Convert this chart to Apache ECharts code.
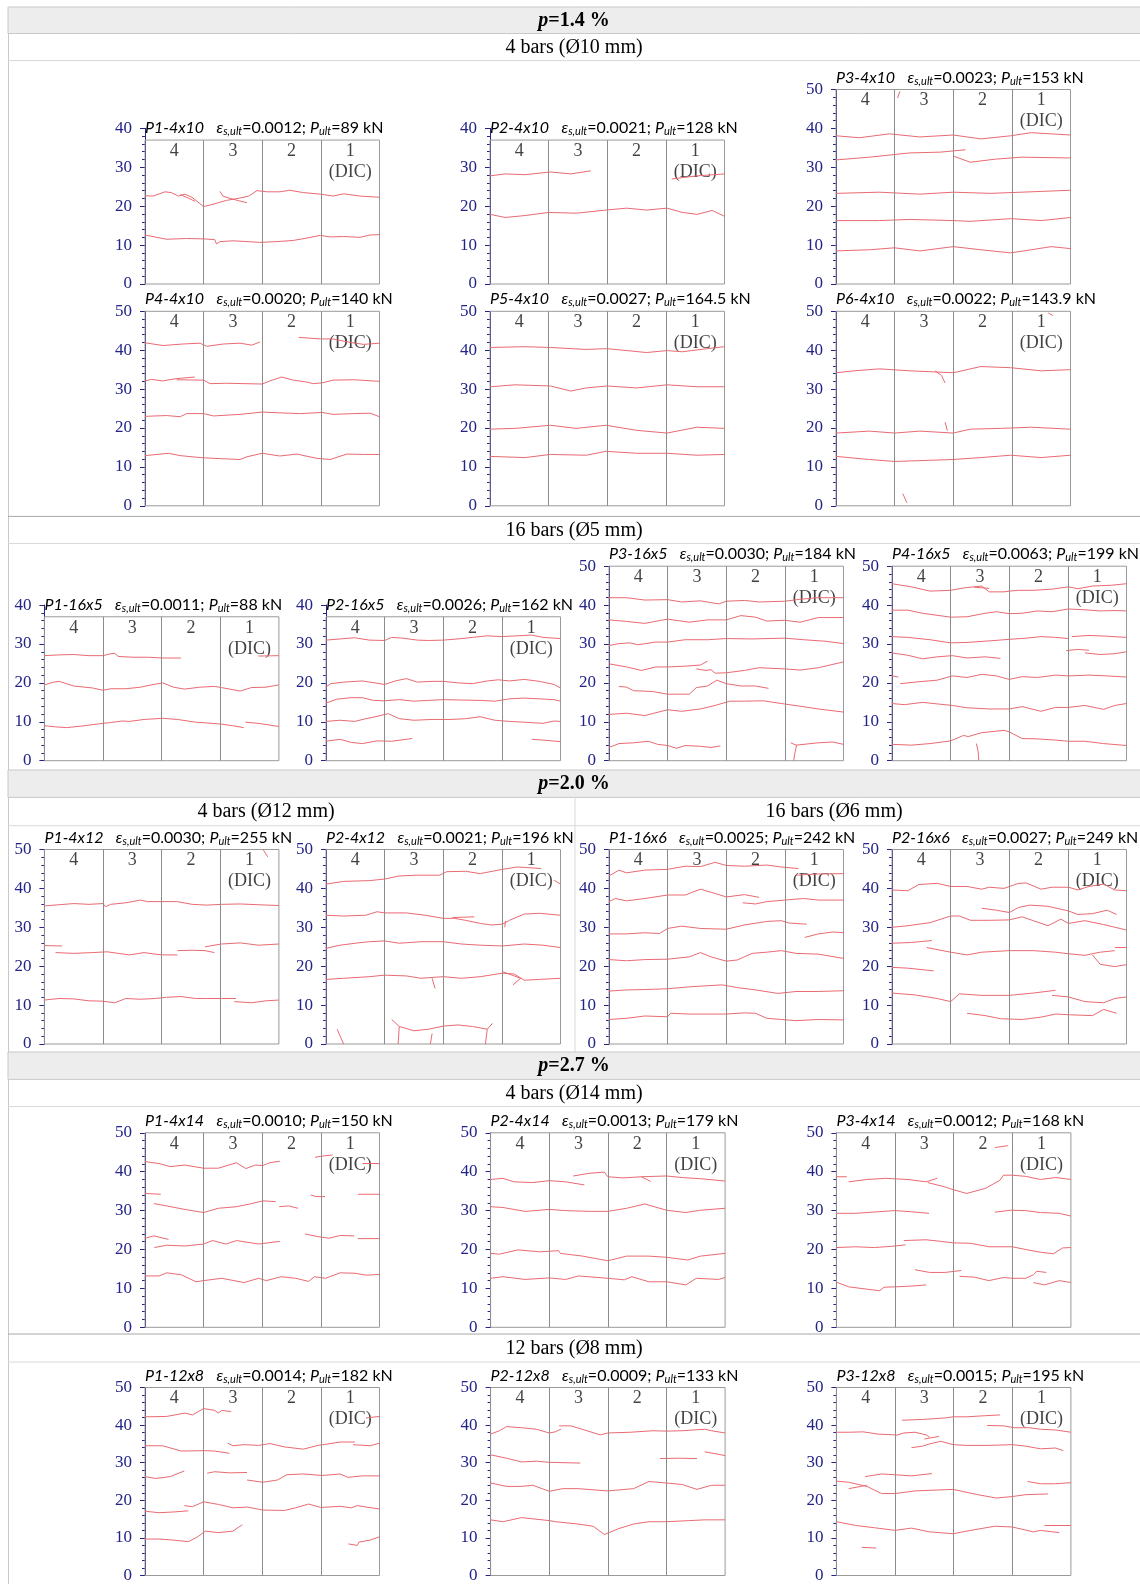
<!DOCTYPE html>
<html><head><meta charset="utf-8">
<script src="https://cdn.jsdelivr.net/npm/echarts@6/dist/echarts.min.js"></script>
<style>html,body{margin:0;padding:0;background:#fff}#c{width:1140px;height:1584px}</style>
</head><body><div id="c"></div><script>
// ---------------- DATA ----------------
const groupHeaders = ['1.4', '2.0', '2.7'];
const subHeaders = ['4 bars (Ø10 mm)', '16 bars (Ø5 mm)', '4 bars (Ø12 mm)', '16 bars (Ø6 mm)', '4 bars (Ø14 mm)', '12 bars (Ø8 mm)'];
const colLabels = ['4', '3', '2', '1\n(DIC)'];
const names = ['P1-4x10','P2-4x10','P3-4x10','P4-4x10','P5-4x10','P6-4x10',
  'P1-16x5','P2-16x5','P3-16x5','P4-16x5',
  'P1-4x12','P2-4x12','P1-16x6','P2-16x6',
  'P1-4x14','P2-4x14','P3-4x14',
  'P1-12x8','P2-12x8','P3-12x8'];
const epsUlt = ['0.0012','0.0021','0.0023','0.0020','0.0027','0.0022',
  '0.0011','0.0026','0.0030','0.0063',
  '0.0030','0.0021','0.0025','0.0027',
  '0.0010','0.0013','0.0012',
  '0.0014','0.0009','0.0015'];
const pUlt = ['89','128','153','140','164.5','143.9',
  '88','162','184','199',
  '255','196','242','249',
  '150','179','168',
  '182','133','195'];
const yMaxes = [40,40,50,50,50,50, 40,40,50,50, 50,50,50,50, 50,50,50, 50,50,50];
const boxHeights = [37,37,50,50,50,50, 37,37,50,50, 50,50,50,50, 50,50,50, 50,50,50];

// crack polylines: x in column widths (0..4), y in cm
const P1_4x10 = [
 [[0,22.7],[0.14,22.6],[0.34,23.7],[0.45,23.5],[0.57,22.6],[0.68,23.1],[0.8,22.3],[1.0,19.9],[1.16,20.5],[1.39,21.5],[1.62,22.1],[1.77,22.6],[1.91,24.0],[2.08,23.7],[2.3,23.7],[2.47,24.1],[2.7,23.5],[2.99,23.1],[3.21,22.6],[3.39,23.2],[3.67,22.6],[4,22.3]],
 [[1.28,23.8],[1.33,22.6],[1.45,22.0],[1.6,21.4],[1.74,20.9]],
 [[0.6,23.0],[0.72,22.2],[0.85,21.3]],
 [[0,12.6],[0.2,12.0],[0.37,11.5],[0.71,11.7],[1.0,11.6],[1.19,11.4],[1.22,10.3],[1.28,10.9],[1.51,11.1],[1.74,10.9],[1.96,10.7],[2.25,10.9],[2.53,11.2],[2.76,11.8],[2.99,12.5],[3.16,12.1],[3.39,12.2],[3.67,12.0],[3.84,12.6],[4,12.7]]
];
const P2_4x10 = [
 [[0,27.8],[0.26,28.3],[0.6,28.1],[1.03,28.8],[1.38,28.3],[1.72,29.1]],
 [[3.1,27.0],[3.53,27.8],[4,28.3]],
 [[0,17.9],[0.26,17.1],[0.6,17.6],[1.0,18.4],[1.47,18.2],[1.98,19.0],[2.33,19.5],[2.67,19.0],[3.02,19.5],[3.28,18.4],[3.53,17.9],[3.79,18.9],[4,17.4]]
];
const P3_4x10 = [
 [[1.09,49.5],[1.05,47.8]],
 [[0,38.1],[0.4,37.6],[0.91,38.6],[1.43,37.8],[2.0,38.3],[2.47,37.3],[2.98,38.1],[3.33,38.9],[4,38.3]],
 [[0,31.9],[0.57,32.6],[1.26,33.7],[1.78,33.9],[2.21,34.5]],
 [[2.0,32.9],[2.29,31.3],[2.72,32.1],[3.16,32.6],[4,32.4]],
 [[0,23.3],[0.74,23.6],[1.43,23.1],[2.0,23.6],[2.64,23.3],[3.5,23.8],[4,24.1]],
 [[0,16.3],[0.74,16.3],[1.26,16.6],[2.0,16.3],[2.29,16.1],[2.98,16.8],[3.5,16.3],[4,17.1]],
 [[0,8.5],[0.57,8.8],[1.0,9.3],[1.43,8.5],[2.0,9.6],[2.47,8.8],[2.98,8.0],[3.33,8.8],[3.67,9.6],[4,9.1]]
];
const P4_4x10 = [
 [[0,41.9],[0.31,41.2],[0.65,41.6],[0.94,41.8],[1.05,41.0],[1.34,41.6],[1.62,41.8],[1.82,41.3],[1.96,42.1]],
 [[2.62,43.3],[2.99,42.9],[3.2,42.9],[3.5,42.0],[3.73,41.5],[4,41.8]],
 [[0,32.1],[0.11,32.5],[0.3,32.1],[0.54,32.7],[0.85,33.1]],
 [[0.54,32.4],[1.0,32.3],[1.11,31.4],[1.39,31.5],[2.0,31.3],[2.13,32.1],[2.33,33.1],[2.53,32.3],[2.76,31.8],[2.87,31.4],[3.02,31.6],[3.21,32.3],[3.56,32.4],[4,32.0]],
 [[0,23.0],[0.37,23.2],[0.6,22.9],[0.71,23.7],[1.0,23.7],[1.17,23.1],[1.62,23.5],[2.0,24.1],[2.3,23.9],[2.65,23.7],[3.02,24.0],[3.21,23.5],[3.56,23.7],[3.84,23.8],[4,22.9]],
 [[0,12.9],[0.4,13.5],[0.6,12.9],[0.94,12.4],[1.17,12.2],[1.62,11.9],[1.74,12.6],[2.0,13.5],[2.3,12.8],[2.59,13.3],[2.93,12.2],[3.16,11.9],[3.44,13.3],[3.73,13.2],[4,13.2]]
];
const P5_4x10 = [
 [[0,40.7],[0.6,40.9],[1.03,40.7],[1.64,40.2],[2.0,40.4],[2.67,39.4],[3.02,39.9],[3.28,39.6],[3.71,40.4],[4,40.9]],
 [[0,30.6],[0.43,31.1],[1.03,30.8],[1.38,29.5],[1.64,30.3],[2.0,30.8],[2.5,30.3],[3.02,31.1],[3.53,30.6],[4,30.6]],
 [[0,19.7],[0.43,19.9],[1.03,20.7],[1.47,19.9],[1.98,20.7],[2.5,19.4],[3.02,18.7],[3.53,20.2],[4,19.9]],
 [[0,12.7],[0.6,12.4],[1.03,13.2],[1.64,13.0],[1.98,14.0],[2.5,13.5],[3.02,13.5],[3.53,13.0],[4,13.2]]
];
const P6_4x10 = [
 [[3.62,49.6],[3.7,48.9]],
 [[0,34.2],[0.31,34.7],[0.74,35.2],[1.26,34.7],[2.0,34.2],[2.47,35.8],[2.98,35.5],[3.5,34.7],[4,35.0]],
 [[1.69,34.7],[1.8,33.5],[1.86,31.6]],
 [[0,18.7],[0.57,19.2],[1.0,18.7],[1.43,19.2],[2.0,18.7],[2.29,19.7],[2.81,19.9],[3.33,20.2],[4,19.7]],
 [[1.86,21.5],[1.9,19.3]],
 [[0,12.7],[0.57,11.9],[1.0,11.4],[1.6,11.7],[2.0,11.9],[2.47,12.4],[2.98,13.0],[3.5,12.4],[4,13.0]],
 [[1.14,3.1],[1.21,0.8]]
];
const P1_16x5 = [
 [[0,27.0],[0.25,27.2],[0.5,27.3],[0.76,27.0],[1.0,27.0],[1.13,27.5],[1.2,27.6],[1.26,26.8],[1.51,26.6],[1.76,26.6],[2.02,26.4],[2.33,26.4]],
 [[3.65,26.9],[4,27.0]],
 [[0,19.5],[0.16,20.2],[0.25,20.4],[0.5,19.2],[0.82,18.7],[1.0,18.1],[1.13,18.5],[1.39,18.5],[1.64,18.9],[1.83,19.5],[2.02,20.0],[2.2,18.9],[2.39,18.4],[2.65,18.9],[2.9,19.1],[3.02,18.8],[3.34,17.9],[3.53,18.8],[3.78,18.9],[4,19.5]],
 [[0,9.0],[0.19,8.7],[0.38,8.5],[0.63,8.9],[1.0,9.6],[1.13,9.8],[1.32,10.2],[1.45,10.1],[1.7,10.6],[2.02,10.9],[2.27,10.6],[2.58,9.9],[2.77,9.7],[3.02,9.4],[3.21,9.0],[3.4,8.5]],
 [[3.43,9.9],[3.65,9.6],[4,8.8]]
];
const P2_16x5 = [
 [[0,31.0],[0.24,31.3],[0.49,31.6],[0.74,31.0],[1.0,30.9],[1.12,31.7],[1.31,31.5],[1.56,31.0],[1.75,30.9],[2.0,31.0],[2.25,31.3],[2.5,31.7],[2.75,32.1],[3.0,31.9],[3.26,32.1],[3.51,32.3],[3.7,31.7],[4,31.4]],
 [[0,18.9],[0.08,19.8],[0.3,20.2],[0.62,20.5],[1.0,19.6],[1.18,20.5],[1.37,21.1],[1.56,20.2],[1.81,20.4],[2.0,20.4],[2.25,20.0],[2.5,19.8],[2.75,20.5],[2.94,20.8],[3.13,20.5],[3.38,20.9],[3.64,20.4],[3.89,19.6],[4,18.7]],
 [[0,14.8],[0.18,15.8],[0.43,16.2],[0.62,16.2],[0.81,15.5],[1.0,15.4],[1.25,15.7],[1.5,15.3],[1.75,15.5],[2.0,15.7],[2.31,15.6],[2.63,15.5],[2.88,15.3],[3.13,15.9],[3.38,16.1],[3.64,15.9],[3.89,15.7],[4,15.3]],
 [[0,10.1],[0.24,10.4],[0.49,10.1],[0.68,10.8],[0.87,11.4],[1.06,12.1],[1.25,10.8],[1.5,10.4],[1.81,10.6],[2.13,10.6],[2.38,10.8],[2.63,11.3],[2.88,10.4],[3.13,10.1],[3.38,9.9],[3.7,9.6],[3.89,10.2],[4,10.1]],
 [[0,5.0],[0.24,5.5],[0.43,4.7],[0.62,4.4],[0.87,5.1],[1.12,5.0],[1.47,5.7]],
 [[3.51,5.5],[3.7,5.3],[4,4.9]]
];
const P3_16x5 = [
 [[0,41.9],[0.3,41.9],[0.61,41.3],[1.0,41.4],[1.24,40.8],[1.56,41.1],[1.87,40.3],[2.0,41.0],[2.31,41.2],[2.56,40.8],[3.0,41.0],[3.26,41.5],[3.57,41.9],[4,41.9]],
 [[0,36.2],[0.3,35.8],[0.61,35.3],[1.0,36.4],[1.37,35.6],[1.68,36.2],[2.0,36.2],[2.25,37.3],[2.5,36.9],[2.69,35.9],[3.0,36.1],[3.26,35.6],[3.57,36.8],[4,36.8]],
 [[0,29.6],[0.17,30.1],[0.36,30.3],[0.49,29.8],[0.8,30.5],[1.0,30.5],[1.3,31.1],[1.68,31.1],[2.0,31.4],[2.44,31.3],[3.0,31.5],[3.32,31.1],[3.7,30.7],[4,30.1]],
 [[0,24.9],[0.3,24.1],[0.55,23.2],[0.8,24.1],[1.0,24.1],[1.3,24.3],[1.56,24.6],[1.68,25.6]],
 [[1.49,23.6],[1.65,23.2],[1.74,23.4],[1.81,22.5],[2.0,22.6],[2.31,23.2],[2.56,23.9],[3.0,23.6],[3.26,23.3],[3.57,23.9],[4,25.4]],
 [[0.17,19.1],[0.3,18.9],[0.42,18.0],[0.74,17.8],[1.0,17.1],[1.37,17.1],[1.49,18.8],[1.68,19.2],[1.84,20.7],[2.0,19.8],[2.25,19.2],[2.5,19.2],[2.72,18.6]],
 [[0,11.9],[0.3,12.2],[0.61,11.6],[1.0,13.1],[1.24,12.7],[1.56,13.3],[1.81,14.2],[2.06,15.3],[2.31,15.3],[2.63,15.4],[2.94,14.7],[3.26,14.0],[3.57,13.3],[4,12.5]],
 [[0,3.4],[0.17,4.4],[0.42,4.6],[0.67,5.0],[0.83,4.2],[1.0,3.9],[1.15,3.2],[1.3,3.9],[1.56,3.7],[1.74,3.4],[1.9,3.8]],
 [[3.1,4.6],[3.19,4.0],[3.57,4.6],[3.82,4.8],[4,4.2]],
 [[3.2,4.0],[3.17,1.9],[3.15,0]]
];
const P4_16x5 = [
 [[0,45.5],[0.33,44.7],[0.65,43.6],[1.0,43.8],[1.22,44.4],[1.53,44.9],[1.66,43.4],[1.91,43.4],[2.0,43.6],[2.16,43.8],[2.41,43.8],[2.73,44.1],[3.01,44.7],[3.17,44.2],[3.42,44.9],[3.74,45.1],[4,45.5]],
 [[1.4,44.6],[1.66,44.3]],
 [[0,38.7],[0.27,38.7],[0.52,37.9],[1.0,36.9],[1.28,37.0],[1.59,37.9],[1.78,38.3],[2.0,37.8],[2.22,37.9],[2.48,38.5],[2.73,38.3],[3.01,39.0],[3.29,38.8],[3.55,38.5],[3.8,38.6],[4,38.5]],
 [[0,31.9],[0.27,31.7],[0.65,31.1],[1.0,30.3],[1.28,30.4],[1.66,30.8],[2.0,31.2],[2.29,31.5],[2.54,31.9],[2.79,31.7],[3.01,31.4]],
 [[3.07,31.9],[3.36,32.2],[3.67,32.0],[4,31.7]],
 [[0,27.7],[0.27,27.1],[0.52,26.2],[0.77,26.7],[1.03,27.0],[1.28,26.4],[1.59,26.7],[1.85,26.3]],
 [[2.97,28.3],[3.17,28.6],[3.36,28.4]],
 [[3.29,27.7],[3.55,27.3],[3.8,27.5],[4,28.0]],
 [[0,21.8],[0.11,21.5]],
 [[0.14,19.8],[0.46,20.3],[0.77,20.7],[1.03,21.8],[1.28,21.4],[1.53,22.2],[1.78,21.8],[2.0,20.9],[2.22,21.6],[2.48,21.4],[2.79,22.0],[3.01,21.8],[3.36,22.0],[3.67,21.8],[4,21.5]],
 [[0,14.7],[0.21,14.4],[0.52,15.0],[0.77,14.6],[1.03,14.2],[1.28,13.6],[1.66,13.3],[2.0,13.3],[2.22,13.9],[2.54,12.7],[2.79,13.7],[3.01,13.7],[3.29,14.2],[3.61,13.2],[3.8,14.2],[4,14.7]],
 [[0,4.2],[0.33,4.0],[0.65,4.4],[1.0,5.1],[1.22,6.5],[1.3,6.2],[1.53,7.2],[1.91,7.8],[2.0,7.4],[2.22,5.7],[2.48,5.6],[2.79,5.3],[3.01,5.0],[3.29,5.0],[3.61,4.4],[4,3.9]],
 [[1.44,4.4],[1.47,2.3],[1.48,0]]
];
const P1_4x12 = [
 [[3.73,50],[3.81,48.1]],
 [[0,35.5],[0.25,35.8],[0.5,36.1],[0.76,35.9],[1.0,36.1],[1.04,35.3],[1.13,35.9],[1.39,36.3],[1.64,37.0],[1.76,36.6],[1.99,36.6],[2.27,36.6],[2.52,35.9],[2.77,35.7],[3.02,35.9],[3.34,36.0],[3.65,35.8],[4,35.6]],
 [[0,25.3],[0.3,25.2]],
 [[0.19,23.5],[0.5,23.3],[0.82,23.5],[1.07,23.7],[1.26,23.3],[1.45,22.9],[1.7,23.5],[1.89,23.1],[2.02,22.9],[2.27,22.9]],
 [[2.27,24.0],[2.52,24.1],[2.74,24.0],[2.9,23.5]],
 [[2.74,25.0],[3.02,25.7],[3.34,26.0],[3.65,25.4],[4,25.7]],
 [[0,11.3],[0.25,11.7],[0.5,11.6],[0.76,11.1],[1.0,11.0],[1.2,10.6],[1.39,11.7],[1.64,11.5],[1.89,11.7],[2.08,12.0],[2.33,12.2],[2.58,11.7],[2.77,11.7],[3.02,11.7],[3.27,11.7]],
 [[3.24,10.9],[3.53,10.6],[3.78,11.1],[4,11.3]]
];
const P2_4x12 = [
 [[0,41.1],[0.3,41.8],[0.74,42.0],[1.0,42.4],[1.25,43.2],[1.56,43.4],[1.94,43.4],[2.06,44.3],[2.38,44.4],[2.63,43.8],[3.01,44.9],[3.26,45.5],[3.38,45.4],[3.67,45.1]],
 [[3.89,42.1],[4,41.1]],
 [[0,33.1],[0.3,32.9],[0.68,33.1],[0.87,34.0],[1.0,33.7],[1.37,33.7],[1.69,33.1],[2.0,32.3],[2.19,32.3],[2.38,31.8],[2.63,31.0],[2.82,30.6],[3.01,30.8],[3.13,31.8],[3.38,33.4],[3.64,33.6],[4,33.1]],
 [[2.16,32.5],[2.53,32.7]],
 [[3.06,31.6],[3.05,30.0]],
 [[0,24.6],[0.24,25.4],[0.55,26.0],[0.74,26.3],[1.0,26.5],[1.25,25.9],[1.62,26.3],[2.0,26.3],[2.31,25.7],[2.63,25.4],[3.01,25.2],[3.38,25.7],[3.7,25.4],[4,24.8]],
 [[0,16.6],[0.3,16.9],[0.74,17.3],[1.0,17.7],[1.37,17.5],[1.62,16.9],[2.0,17.3],[2.31,16.9],[2.63,17.3],[3.01,18.2],[3.21,18.0],[3.38,16.4],[3.64,16.6],[4,16.9]],
 [[3.01,18.6],[3.32,16.9],[3.19,15.2]],
 [[1.81,16.9],[1.86,14.3]],
 [[1.12,6.3],[1.25,4.5],[1.5,3.4],[1.75,3.8],[2.0,4.6],[2.25,4.9],[2.5,4.5],[2.75,3.8],[2.84,5.3]],
 [[1.25,4.5],[1.23,0]],
 [[1.81,2.7],[1.78,0]],
 [[2.75,3.8],[2.72,0]],
 [[0.19,3.8],[0.3,0]]
];
const P1_16x6 = [
 [[0,43.2],[0.17,44.7],[0.3,44.0],[0.61,44.7],[1.0,44.9],[1.3,45.7],[1.56,45.6],[1.81,46.7],[2.0,45.9],[2.31,45.7],[2.69,46.0],[2.94,45.5],[3.23,45.1]],
 [[3.19,43.4],[3.57,43.7],[4,43.8]],
 [[0,36.6],[0.11,37.4],[0.3,36.8],[0.61,37.4],[1.0,38.3],[1.3,38.3],[1.56,39.8],[1.81,38.7],[2.0,37.8],[2.31,38.4],[2.56,37.7]],
 [[2.28,36.3],[2.5,36.0],[2.69,36.6],[3.0,37.0],[3.32,37.4],[3.57,37.0],[4,37.0]],
 [[0,28.3],[0.3,28.3],[0.61,28.6],[0.86,28.4],[1.0,29.7],[1.24,30.3],[1.56,29.7],[2.0,29.5],[2.31,30.6],[2.69,31.5],[2.94,31.7],[3.07,31.1],[3.37,30.8]],
 [[3.34,27.4],[3.57,28.3],[3.82,28.8],[4,28.6]],
 [[0,21.7],[0.3,21.4],[0.61,21.7],[1.0,21.8],[1.37,22.4],[1.56,23.5],[1.74,22.4],[2.0,21.3],[2.19,21.6],[2.44,23.3],[2.69,23.6],[2.94,24.0],[3.19,23.3],[3.57,23.1],[4,22.0]],
 [[0,13.6],[0.3,13.9],[0.61,14.0],[1.0,14.2],[1.37,14.7],[1.93,15.2],[2.19,14.5],[2.5,13.9],[2.88,13.0],[3.19,13.5],[3.57,13.5],[4,13.7]],
 [[0,6.3],[0.3,6.6],[0.61,7.2],[1.0,7.0],[1.05,7.9],[1.37,7.7],[2.0,7.7],[2.31,8.0],[2.5,7.9],[2.69,6.6],[2.94,6.3],[3.19,6.0],[3.57,6.3],[4,6.2]]
];
const P2_16x6 = [
 [[0,39.6],[0.27,39.4],[0.46,41.0],[0.77,41.3],[1.0,40.5],[1.28,40.5],[1.53,39.8],[1.66,40.3],[1.91,40.0],[2.16,41.3],[2.29,41.4],[2.54,39.8],[2.73,40.3],[3.01,40.3],[3.17,39.6],[3.36,40.5],[3.61,41.1],[3.8,39.6],[4,39.4]],
 [[1.53,34.9],[1.78,34.4],[2.0,33.8],[2.16,35.1],[2.35,35.7],[2.66,35.4],[3.01,34.2],[3.17,33.3],[3.42,33.5],[3.67,34.4],[3.83,33.3]],
 [[0,30.0],[0.27,30.4],[0.65,31.2],[1.0,32.9],[1.15,32.9],[1.34,31.8],[1.66,31.8],[2.0,31.9],[2.22,32.7],[2.41,31.7],[2.66,30.4],[2.88,32.1],[3.01,31.0],[3.29,31.7],[3.61,30.7],[4,29.3]],
 [[0,25.9],[0.33,26.1],[0.68,26.6]],
 [[0.59,24.8],[1.0,23.6],[1.28,22.9],[1.53,23.6],[2.0,24.0],[2.41,24.0],[2.79,23.6],[3.01,23.2],[3.29,22.8],[3.55,23.6],[3.8,24.0]],
 [[3.8,24.8],[4,24.8]],
 [[3.42,22.9],[3.55,20.5],[3.8,19.9],[4,20.4]],
 [[0,19.7],[0.27,19.5],[0.71,18.8]],
 [[0,13.1],[0.4,12.6],[0.77,11.7],[1.0,10.9],[1.15,12.9],[1.53,12.5],[2.0,12.5],[2.41,13.1],[2.79,13.8]],
 [[2.73,12.5],[3.01,12.1],[3.29,10.9],[3.61,10.6],[3.8,11.7],[4,12.1]],
 [[1.28,7.9],[1.59,7.3],[1.85,6.5],[2.22,6.3],[2.54,6.9],[2.79,7.7],[3.04,7.5],[3.42,7.3],[3.61,8.9],[3.83,7.9]]
];
const P1_4x14 = [
 [[0,42.6],[0.24,42.1],[0.43,41.3],[0.68,41.7],[1.0,40.9],[1.25,40.9],[1.56,42.3],[1.72,40.8],[1.88,41.7],[2.01,41.6],[2.13,42.3],[2.3,42.7]],
 [[2.9,43.7],[3.02,44.0],[3.2,44.3]],
 [[3.71,42.1],[4,42.1]],
 [[0,34.4],[0.27,34.2]],
 [[2.83,34.0],[2.92,33.6],[3.07,33.6]],
 [[3.63,34.2],[4,34.2]],
 [[0.15,31.8],[0.37,31.2],[0.68,30.3],[1.0,29.5],[1.25,30.6],[1.56,31.0],[1.82,31.8],[2.01,32.5],[2.23,32.3]],
 [[2.29,31.0],[2.45,31.2],[2.61,30.6]],
 [[0,22.9],[0.15,23.5],[0.4,22.6]],
 [[0.16,20.5],[0.37,21.1],[0.68,20.9],[1.0,21.4],[1.15,22.3],[1.38,21.4],[1.56,22.3],[1.94,21.4],[2.3,22.1]],
 [[2.73,24.0],[2.95,23.3],[3.14,22.9],[3.33,23.6],[3.57,23.5]],
 [[3.63,22.8],[4,22.8]],
 [[0,13.2],[0.24,13.2],[0.37,14.0],[0.62,13.5],[0.87,11.7],[1.0,12.0],[1.31,12.6],[1.69,11.5],[1.94,12.6],[2.07,12.0],[2.32,13.0],[2.57,12.6],[2.79,11.8],[2.89,13.0],[3.08,12.6],[3.33,14.0],[3.58,13.9],[3.77,13.4],[4,13.6]]
];
const P2_4x14 = [
 [[0,38.0],[0.21,38.3],[0.4,37.4],[0.72,37.2],[1.0,37.7],[1.28,37.4],[1.6,36.6]],
 [[1.41,38.9],[1.69,39.6],[1.94,39.9],[2.0,38.7],[2.26,38.4],[2.57,38.7],[3.0,38.9],[3.27,38.5],[3.58,38.2],[4,37.6]],
 [[2.57,38.7],[2.73,37.5]],
 [[0,31.0],[0.21,30.8],[0.59,29.8],[1.0,30.3],[1.28,30.0],[1.69,29.8],[2.0,29.8],[2.32,30.6],[2.63,31.7],[3.0,30.1],[3.33,29.5],[3.58,30.1],[4,30.6]],
 [[0,19.0],[0.15,18.8],[0.47,19.9],[0.84,19.4],[1.16,19.7],[1.19,19.0],[1.57,18.3],[2.0,17.1],[2.32,18.3],[2.7,18.3],[3.0,18.0],[3.36,17.3],[3.58,18.3],[4,19.0]],
 [[0,12.6],[0.21,13.0],[0.59,12.3],[1.0,12.7],[1.28,12.3],[1.5,13.2],[2.0,12.6],[2.28,12.2],[2.41,13.0],[2.7,11.7],[3.01,11.7],[3.33,10.9],[3.51,12.6],[3.89,12.3],[4,12.8]]
];
const P3_4x14 = [
 [[2.7,46.2],[2.93,46.7]],
 [[0,38.7],[0.18,38.7]],
 [[0.21,37.4],[0.52,38.0],[0.84,38.3],[1.22,38.0],[1.53,37.4],[1.72,38.3]],
 [[1.56,37.2],[1.85,36.1],[1.99,35.4],[2.22,34.4],[2.54,35.7],[2.79,37.8],[2.85,39.1],[3.0,39.1],[3.23,38.8],[3.48,38.0],[3.74,38.5],[4,38.0]],
 [[0,29.3],[0.33,29.3],[0.71,29.7],[1.0,30.0],[1.28,29.7],[1.58,29.3]],
 [[2.7,29.6],[2.98,30.1],[3.23,30.0],[3.48,29.5],[3.8,29.3],[4,28.6]],
 [[0,20.5],[0.33,20.7],[0.65,20.5],[1.0,20.9],[1.18,21.2]],
 [[1.15,22.3],[1.53,22.5],[1.78,22.1],[1.99,21.7],[2.29,21.6],[2.6,20.7],[3.0,20.7],[3.23,20.0],[3.48,19.3],[3.7,18.9],[3.86,20.4],[4,20.5]],
 [[1.34,14.8],[1.59,14.1],[1.85,14.1],[2.13,14.6]],
 [[2.1,13.1],[2.35,12.9],[2.6,12.0],[2.85,12.8],[3.0,12.6],[3.23,12.6],[3.36,13.5],[3.42,14.4],[3.58,14.1]],
 [[3.36,11.5],[3.55,10.9],[3.8,12.0],[4,11.5]],
 [[0,11.6],[0.21,10.4],[0.52,9.8],[0.74,9.4],[0.81,10.3],[1.0,10.4],[1.28,10.6],[1.53,10.9]]
];
const P1_12x8 = [
 [[0,42.2],[0.37,42.3],[0.68,43.2],[0.81,42.7],[1.0,44.4],[1.19,43.9],[1.25,43.2],[1.31,43.9],[1.47,43.6]],
 [[3.77,41.9],[4,42.3]],
 [[0,34.5],[0.3,34.5],[0.62,33.1],[1.0,33.2],[1.19,33.1],[1.44,32.5]],
 [[1.41,35.2],[1.5,34.5],[1.69,34.8],[1.94,34.6],[2.13,35.1],[2.38,34.2],[2.7,33.6],[2.95,34.6],[3.33,35.5],[3.58,35.5]],
 [[3.55,34.8],[3.84,34.5],[4,35.2]],
 [[0,26.3],[0.18,25.8],[0.43,26.3],[0.67,27.8]],
 [[1.06,27.2],[1.19,27.6],[1.44,27.3],[1.74,27.4]],
 [[1.74,25.4],[2.01,24.8],[2.26,25.4],[2.42,26.8],[2.7,27.0],[3.02,26.6],[3.33,27.0],[3.46,26.1],[3.71,26.5],[4,26.5]],
 [[0,17.1],[0.24,16.7],[0.49,16.9],[0.74,17.2]],
 [[0.67,18.6],[0.81,18.3],[1.0,19.6],[1.25,18.9],[1.5,18.0],[1.75,18.2],[2.01,17.4],[2.38,17.3],[2.57,18.0],[2.79,19.0],[3.0,18.1],[3.33,18.4],[3.52,18.0],[3.62,18.6],[3.77,18.2],[4,17.7]],
 [[0,9.7],[0.24,9.7],[0.49,9.4],[0.74,9.0],[0.9,10.3],[1.03,11.8],[1.25,11.4],[1.5,11.8],[1.66,13.5]],
 [[3.47,8.4],[3.62,8.0],[3.65,8.9],[3.84,9.4],[4,10.3]]
];
const P2_12x8 = [
 [[0,37.6],[0.15,38.5],[0.27,39.6],[0.53,39.3],[0.78,38.9],[1.0,37.9],[1.1,38.2],[1.2,38.9]],
 [[1.17,39.8],[1.37,39.8],[1.56,38.9],[1.87,37.4],[2.0,37.9],[2.38,38.1],[2.77,38.5],[3.0,38.4],[3.27,38.5],[3.65,38.9],[3.77,38.5],[4,37.9]],
 [[0,32.1],[0.27,31.2],[0.53,30.2],[0.78,30.4],[1.0,30.1],[1.53,29.9]],
 [[2.89,31.1],[3.2,31.2],[3.52,31.1]],
 [[3.65,32.9],[4,31.9]],
 [[0,24.6],[0.27,23.7],[0.53,23.7],[0.72,24.0],[1.0,22.4],[1.23,23.1],[1.49,23.1],[2.0,22.5],[2.44,23.1],[2.7,25.0],[3.0,24.6],[3.27,24.2],[3.52,22.9],[3.77,24.0],[4,24.0]],
 [[0,14.8],[0.21,14.3],[0.53,15.4],[1.0,14.6],[1.11,14.3],[1.49,13.7],[1.75,13.1],[1.94,10.9],[2.19,12.5],[2.44,13.7],[2.7,14.3],[3.0,14.3],[3.39,14.6],[3.65,14.8],[4,14.8]]
];
const P3_12x8 = [
 [[1.12,41.3],[1.47,41.5],[1.85,41.9],[1.99,42.2],[2.22,42.2],[2.54,42.5],[2.79,42.7]],
 [[2.57,39.9],[2.85,39.8],[3.04,39.3],[3.29,39.3],[3.48,38.9],[3.74,38.7],[4,38.1]],
 [[0,38.1],[0.21,38.1],[0.46,38.2],[0.71,37.6],[1.0,37.4]],
 [[1.0,37.2],[1.15,37.9],[1.34,38.1],[1.53,37.4],[1.59,36.8]],
 [[1.5,36.3],[1.75,37.0]],
 [[1.28,34.0],[1.47,34.4],[1.59,35.0],[1.78,35.7],[1.99,34.8],[2.22,34.6],[2.6,34.6],[3.0,34.8],[3.23,34.4],[3.48,33.7],[3.74,33.9],[3.87,33.2]],
 [[0.49,26.3],[0.77,27.0],[1.0,26.8],[1.28,26.5],[1.63,27.1]],
 [[0,25.1],[0.21,24.8],[0.52,23.7],[0.77,21.8],[1.0,21.8],[1.34,22.5],[1.99,22.9],[2.41,21.5],[2.73,20.6],[3.0,21.0],[3.23,21.5],[3.61,21.7]],
 [[0.21,23.1],[0.52,24.0]],
 [[3.26,25.0],[3.48,24.4],[3.74,24.4],[4,24.7]],
 [[0,14.3],[0.33,13.3],[0.65,12.7],[1.0,12.0],[1.28,12.6],[1.59,11.6],[1.99,11.1],[2.29,12.0],[2.7,13.1],[3.0,12.9],[3.36,11.6],[3.48,12.0],[3.8,11.4]],
 [[3.55,13.3],[4,13.3]],
 [[0.43,7.5],[0.68,7.3]]
];
const cracks = [P1_4x10,P2_4x10,P3_4x10,P4_4x10,P5_4x10,P6_4x10,
  P1_16x5,P2_16x5,P3_16x5,P4_16x5,
  P1_4x12,P2_4x12,P1_16x6,P2_16x6,
  P1_4x14,P2_4x14,P3_4x14,
  P1_12x8,P2_12x8,P3_12x8];

// ---------------- LAYOUT / STYLE ----------------
const boxLeft = [145,490,836, 145,490,836, 44.4,326,609,892, 44.4,326,609,892, 145,490.6,836.4, 145,490.6,836.4];
const zeroY = [284,284,284, 505.8,505.8,505.8, 760.7,760.7,760.7,760.7, 1044,1044,1044,1044, 1327.3,1327.3,1327.3, 1582,1582,1582];
const PXU = 3.89, BOXW = 234.5;
const NAVY = '#232388', RED = '#ea6a72', SERIF = '"Liberation Serif","Times New Roman",serif', SANS = 'Lato,"DejaVu Sans",sans-serif';

const grids=[], xAxes=[], yAxes=[], series=[], titles=[];
for (let i=0;i<names.length;i++){
  const ymax=yMaxes[i], h=ymax*PXU, bh=boxHeights[i];
  grids.push({left:boxLeft[i], top:zeroY[i]-h, width:BOXW, height:h, containLabel:false});
  xAxes.push({gridIndex:i, type:'value', min:0, max:4, show:false});
  yAxes.push({gridIndex:i, type:'value', min:0, max:ymax, interval:10, offset:9,
    axisLine:{show:true, lineStyle:{color:NAVY, width:1}},
    axisTick:{show:true, length:5, lineStyle:{color:NAVY}},
    minorTick:{show:true, splitNumber:5, length:3, lineStyle:{color:NAVY}},
    splitLine:{show:false},
    axisLabel:{color:NAVY, fontFamily:SERIF, fontSize:17, margin:4}});
  series.push({type:'scatter', xAxisIndex:i, yAxisIndex:i, symbolSize:1, itemStyle:{color:'rgba(0,0,0,0)'}, silent:true,
    data: colLabels.map((t,k)=>[k+0.5,bh,t]),
    label:{show:true, position:'bottom', distance:0, formatter:p=>p.data[2], fontFamily:SERIF, fontSize:18, lineHeight:21, color:'#111', align:'center'},
    markArea:{silent:true, itemStyle:{color:'rgba(0,0,0,0)', borderColor:'#9a9a9a', borderWidth:1}, data:[[{coord:[0,0]},{coord:[4,bh]}]]},
    markLine:{silent:true, symbol:['none','none'], label:{show:false}, lineStyle:{color:'#8c8c8c', type:'solid', width:1},
      data:[1,2,3].map(v=>[{coord:[v,0]},{coord:[v,bh]}])}
  });
  cracks[i].forEach(c=>series.push({type:'line', xAxisIndex:i, yAxisIndex:i, data:c, symbol:'none', showSymbol:false, silent:true, z:3,
    lineStyle:{color:RED, width:1}}));
  titles.push({left:boxLeft[i], top:zeroY[i]-bh*PXU-21, padding:0,
    text:`{n|${names[i]}}{r|   }{i|ε}{s|s,ult}{r|=${epsUlt[i]}; }{i|P}{s|ult}{r|=${pUlt[i]} kN}`,
    textStyle:{fontFamily:SANS, fontSize:16, fontWeight:'normal', color:'#000', rich:{
      n:{fontFamily:SANS, fontSize:16, fontStyle:'italic', color:'#000', lineHeight:18},
      i:{fontFamily:SANS, fontSize:16, fontStyle:'italic', color:'#000', lineHeight:18},
      r:{fontFamily:SANS, fontSize:16, color:'#000', lineHeight:18},
      s:{fontFamily:SANS, fontSize:11, fontStyle:'italic', color:'#000', lineHeight:10, verticalAlign:'bottom'}
    }}});
}

// table graphics
const LIGHT='#d9d9d9', DARK='#a8a8a8', BAND='#ededed';
const g=[];
function band(y0,y1){ g.push({type:'rect', shape:{x:8,y:y0,width:1140,height:y1-y0}, style:{fill:BAND, stroke:'#c9c9c9', lineWidth:1}, z:0}); }
function hline(y,col,x0=8,x1=1140){ g.push({type:'line', shape:{x1:x0,y1:y,x2:x1,y2:y}, style:{stroke:col, lineWidth:1}, z:0}); }
function vline(x,y0,y1,col){ g.push({type:'line', shape:{x1:x,y1:y0,x2:x,y2:y1}, style:{stroke:col, lineWidth:1}, z:0}); }
function ptext(x,y,val){ g.push({type:'text', x:x, y:y, z:5, style:{text:`{pi|p}{b|=${val} %}`, align:'center', verticalAlign:'middle',
  rich:{pi:{fontFamily:SERIF, fontSize:20, fontWeight:'bold', fontStyle:'italic', fill:'#000', color:'#000'}, b:{fontFamily:SERIF, fontSize:20, fontWeight:'bold', fill:'#000', color:'#000'}}}}); }
function stext(x,y,t){ g.push({type:'text', x:x, y:y, z:5, style:{text:t, align:'center', verticalAlign:'middle', font:'20px "Liberation Serif"', fill:'#000'}}); }

vline(8.5,7,1584,'#c9c9c9');
band(7,33.5); ptext(574,20.5,groupHeaders[0]);
hline(60.6,LIGHT); stext(574,47.5,subHeaders[0]);
hline(516.4,DARK); hline(543.5,LIGHT); stext(574,530.5,subHeaders[1]);
band(770,797.4); ptext(574,784,groupHeaders[1]);
hline(825.7,LIGHT); vline(575,797.4,1052,LIGHT);
stext(266,812,subHeaders[2]); stext(834,812,subHeaders[3]);
band(1052,1079.4); ptext(574,1066,groupHeaders[2]);
hline(1106.6,LIGHT); stext(574,1093.5,subHeaders[4]);
hline(1334,DARK); hline(1362,LIGHT); stext(574,1348.5,subHeaders[5]);

const chart = echarts.init(document.getElementById('c'), null, {renderer:'canvas', width:1140, height:1584});
chart.setOption({animation:false, backgroundColor:'#ffffff', title:titles, grid:grids, xAxis:xAxes, yAxis:yAxes, series:series, graphic:g});
</script></body></html>
